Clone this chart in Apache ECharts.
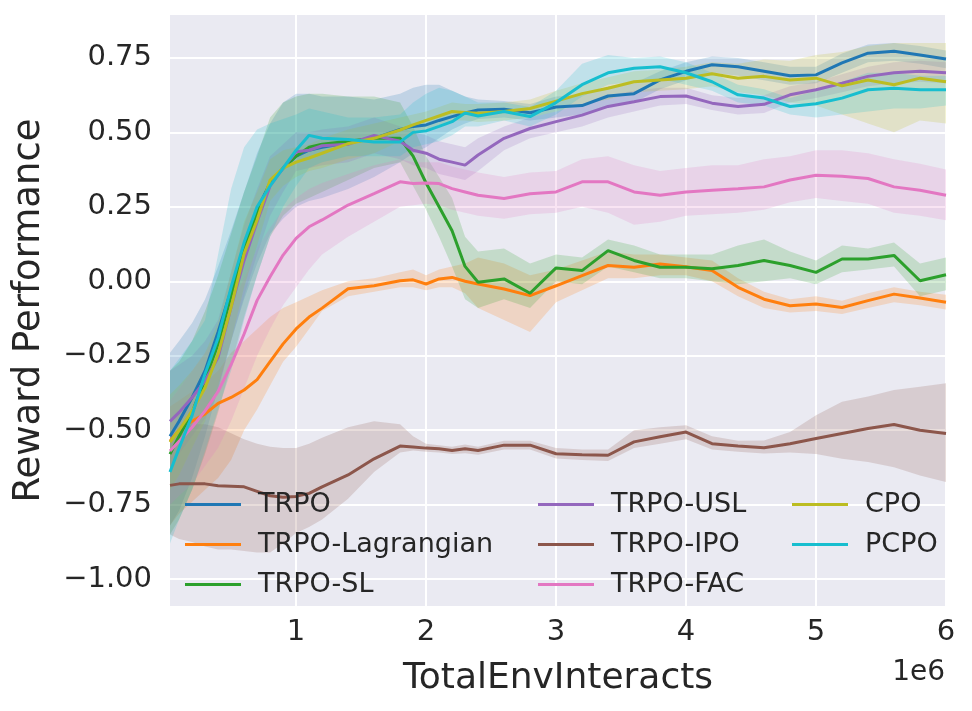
<!DOCTYPE html>
<html>
<head>
    <meta charset="utf-8">
    <title>Reward Performance</title>
    <script src="https://cdn.jsdelivr.net/npm/echarts@6/dist/echarts.min.js"></script>
    <style>
        html, body { margin: 0; padding: 0; background: #ffffff; }
        #chart1 { width: 972px; height: 711px; }
    </style>
</head>
<body>
<div id="chart1"></div>
<script type="text/javascript">
    // x positions, in units of 1e6 env interacts
    var xs = [0.03, 0.1, 0.2, 0.3, 0.4, 0.5, 0.6, 0.7, 0.8, 0.9,
        1.0, 1.1, 1.2, 1.4, 1.6, 1.8, 1.9, 2.0, 2.1, 2.2,
        2.3, 2.4, 2.6, 2.8, 3.0, 3.2, 3.4, 3.6, 3.8, 4.0,
        4.2, 4.4, 4.6, 4.8, 5.0, 5.2, 5.4, 5.6, 5.8, 6.0];
    var xTicks = [1, 2, 3, 4, 5, 6];
    var yTicks = [-1, -0.75, -0.5, -0.25, 0, 0.25, 0.5, 0.75];

    // TRPO
    var trpo = [-0.52, -0.47, -0.39, -0.30, -0.17, -0.03, 0.12, 0.24, 0.33, 0.38,
        0.42, 0.44, 0.45, 0.465, 0.48, 0.51, 0.52, 0.525, 0.54, 0.553,
        0.565, 0.575, 0.578, 0.566, 0.585, 0.59, 0.622, 0.63, 0.676, 0.705,
        0.727, 0.72, 0.705, 0.69, 0.693, 0.733, 0.766, 0.772, 0.76, 0.746];
    var trpoLo = [-0.82, -0.77, -0.66, -0.52, -0.36, -0.2, -0.06, 0.06, 0.16, 0.21,
        0.25, 0.27, 0.28, 0.31, 0.35, 0.40, 0.43, 0.45, 0.48, 0.51,
        0.53, 0.545, 0.55, 0.54, 0.55, 0.56, 0.59, 0.60, 0.645, 0.675,
        0.70, 0.69, 0.675, 0.66, 0.665, 0.70, 0.735, 0.74, 0.73, 0.715];
    var trpoHi = [-0.24, -0.2, -0.14, -0.06, 0.05, 0.17, 0.3, 0.43, 0.53, 0.6,
        0.63, 0.63, 0.62, 0.62, 0.61, 0.63, 0.65, 0.66, 0.66, 0.64,
        0.62, 0.61, 0.605, 0.595, 0.62, 0.625, 0.655, 0.665, 0.705, 0.735,
        0.755, 0.75, 0.735, 0.72, 0.72, 0.765, 0.795, 0.8, 0.79, 0.775];

    // TRPO-Lagrangian
    var lag = [-0.537, -0.5, -0.47, -0.445, -0.41, -0.39, -0.365, -0.33, -0.27, -0.21,
        -0.16, -0.12, -0.09, -0.025, -0.015, 0.002, 0.005, -0.009, 0.008, 0.013,
        0.0, -0.009, -0.026, -0.048, -0.015, 0.019, 0.053, 0.047, 0.058, 0.049,
        0.036, -0.02, -0.06, -0.082, -0.076, -0.088, -0.065, -0.043, -0.056, -0.07];
    var lagLo = [-0.82, -0.78, -0.74, -0.7, -0.66, -0.6, -0.5, -0.43, -0.35, -0.27,
        -0.22, -0.16, -0.1, -0.05, -0.035, -0.02, -0.02, -0.03, -0.02, -0.02,
        -0.04, -0.09, -0.13, -0.17, -0.07, -0.03, 0.01, 0.01, 0.02, 0.02,
        0.0, -0.05, -0.09, -0.105, -0.1, -0.11, -0.09, -0.07, -0.08, -0.095];
    var lagHi = [-0.42, -0.40, -0.37, -0.34, -0.30, -0.24, -0.2, -0.16, -0.12, -0.09,
        -0.07, -0.05, -0.03, 0.0, 0.01, 0.03, 0.04, 0.02, 0.04, 0.05,
        0.06, 0.08, 0.06, 0.02, 0.04, 0.07, 0.1, 0.09, 0.09, 0.08,
        0.07, 0.01, -0.035, -0.06, -0.05, -0.065, -0.04, -0.02, -0.035, -0.045];

    // TRPO-SL
    var sl = [-0.58, -0.52, -0.44, -0.33, -0.21, -0.05, 0.11, 0.23, 0.33, 0.38,
        0.42, 0.45, 0.46, 0.47, 0.48, 0.48, 0.42, 0.33, 0.25, 0.17,
        0.05, -0.003, 0.008, -0.04, 0.045, 0.036, 0.103, 0.07, 0.047, 0.047,
        0.042, 0.053, 0.07, 0.053, 0.03, 0.075, 0.075, 0.087, 0.002, 0.022];
    var slLo = [-0.85, -0.8, -0.7, -0.58, -0.44, -0.28, -0.12, 0.02, 0.15, 0.22,
        0.26, 0.28, 0.3, 0.34, 0.38, 0.4, 0.32, 0.24, 0.15, 0.05,
        -0.06, -0.09, -0.06, -0.09, 0.0, -0.01, 0.05, 0.03, 0.01, 0.01,
        0.0, -0.01, 0.0, 0.01, -0.01, 0.03, 0.04, 0.05, -0.05, -0.03];
    var slHi = [-0.3, -0.27, -0.2, -0.1, 0.02, 0.16, 0.3, 0.42, 0.55, 0.6,
        0.62, 0.63, 0.63, 0.62, 0.62, 0.6, 0.52, 0.42, 0.35, 0.28,
        0.15, 0.1, 0.11, 0.06, 0.09, 0.08, 0.14, 0.12, 0.09, 0.09,
        0.09, 0.12, 0.14, 0.1, 0.07, 0.12, 0.11, 0.13, 0.06, 0.08];

    // TRPO-USL
    var usl = [-0.47, -0.44, -0.39, -0.334, -0.255, -0.087, 0.07, 0.2, 0.32, 0.38,
        0.435, 0.44, 0.455, 0.46, 0.49, 0.47, 0.44, 0.43, 0.41, 0.40,
        0.39, 0.424, 0.48, 0.513, 0.536, 0.558, 0.587, 0.603, 0.62, 0.622,
        0.598, 0.587, 0.594, 0.626, 0.643, 0.665, 0.688, 0.70, 0.705, 0.70];
    var uslLo = [-0.62, -0.58, -0.52, -0.46, -0.37, -0.2, -0.05, 0.09, 0.22, 0.3,
        0.37, 0.38, 0.39, 0.4, 0.43, 0.41, 0.39, 0.38, 0.36, 0.35,
        0.34, 0.37, 0.44, 0.48, 0.5, 0.52, 0.55, 0.57, 0.59, 0.595,
        0.575, 0.56, 0.565, 0.6, 0.615, 0.635, 0.655, 0.665, 0.67, 0.665];
    var uslHi = [-0.3, -0.28, -0.25, -0.2, -0.13, 0.03, 0.19, 0.31, 0.42, 0.46,
        0.5, 0.5, 0.51, 0.52, 0.55, 0.52, 0.5, 0.49, 0.47, 0.46,
        0.45, 0.48, 0.52, 0.55, 0.57, 0.595, 0.625, 0.64, 0.65, 0.65,
        0.625, 0.615, 0.625, 0.655, 0.67, 0.695, 0.72, 0.735, 0.74, 0.735];

    // TRPO-IPO
    var ipo = [-0.685, -0.68, -0.68, -0.68, -0.686, -0.688, -0.69, -0.705, -0.72, -0.725,
        -0.722, -0.712, -0.69, -0.65, -0.596, -0.553, -0.556, -0.56, -0.562, -0.568,
        -0.562, -0.568, -0.55, -0.55, -0.579, -0.582, -0.584, -0.539, -0.522, -0.506,
        -0.545, -0.553, -0.559, -0.545, -0.528, -0.511, -0.494, -0.481, -0.5, -0.511];
    var ipoLo = [-0.85, -0.865, -0.875, -0.89, -0.9, -0.9, -0.905, -0.91, -0.91, -0.88,
        -0.845, -0.825, -0.8, -0.73, -0.64, -0.575, -0.568, -0.572, -0.575, -0.58,
        -0.577, -0.582, -0.565, -0.565, -0.595, -0.6, -0.603, -0.56, -0.545, -0.53,
        -0.565, -0.572, -0.578, -0.575, -0.58, -0.596, -0.607, -0.624, -0.652, -0.674];
    var ipoHi = [-0.52, -0.5, -0.48, -0.48, -0.49, -0.51, -0.53, -0.545, -0.555, -0.56,
        -0.56, -0.545, -0.525, -0.49, -0.47, -0.48, -0.52, -0.545, -0.55, -0.555,
        -0.548, -0.555, -0.535, -0.535, -0.56, -0.565, -0.565, -0.5, -0.49, -0.483,
        -0.52, -0.535, -0.534, -0.506, -0.45, -0.404, -0.387, -0.365, -0.354, -0.342];

    // TRPO-FAC
    var fac = [-0.57, -0.537, -0.49, -0.435, -0.37, -0.28, -0.177, -0.064, 0.015, 0.088,
        0.144, 0.183, 0.206, 0.256, 0.294, 0.334, 0.328, 0.33, 0.328, 0.311,
        0.30, 0.289, 0.278, 0.294, 0.30, 0.334, 0.334, 0.30, 0.289, 0.30,
        0.306, 0.311, 0.317, 0.34, 0.356, 0.353, 0.345, 0.317, 0.306, 0.289];
    var facLo = [-0.75, -0.72, -0.68, -0.62, -0.56, -0.47, -0.36, -0.25, -0.16, -0.08,
        -0.02, 0.04, 0.09, 0.15, 0.2, 0.25, 0.255, 0.26, 0.255, 0.24,
        0.23, 0.22, 0.21, 0.225, 0.23, 0.25, 0.23, 0.19, 0.2, 0.22,
        0.225, 0.23, 0.24, 0.265, 0.28, 0.27, 0.26, 0.23, 0.22, 0.205];
    var facHi = [-0.4, -0.36, -0.3, -0.24, -0.17, -0.08, 0.01, 0.11, 0.18, 0.24,
        0.28, 0.31, 0.33, 0.36, 0.39, 0.41, 0.4, 0.4, 0.4, 0.385,
        0.375, 0.365, 0.35, 0.365, 0.37, 0.41, 0.42, 0.39, 0.37, 0.38,
        0.39, 0.39, 0.41, 0.42, 0.44, 0.44, 0.43, 0.41, 0.395, 0.375];

    // CPO
    var cpo = [-0.54, -0.5, -0.435, -0.357, -0.244, -0.087, 0.093, 0.206, 0.34, 0.38,
        0.40, 0.414, 0.43, 0.462, 0.48, 0.508, 0.525, 0.54, 0.555, 0.57,
        0.567, 0.564, 0.57, 0.58, 0.605, 0.63, 0.648, 0.67, 0.676, 0.682,
        0.697, 0.682, 0.688, 0.676, 0.682, 0.656, 0.676, 0.66, 0.682, 0.67];
    var cpoLo = [-0.7, -0.65, -0.56, -0.47, -0.35, -0.2, -0.02, 0.12, 0.27, 0.32,
        0.35, 0.37, 0.38, 0.41, 0.43, 0.47, 0.49, 0.51, 0.525, 0.54,
        0.54, 0.535, 0.54, 0.55, 0.57, 0.595, 0.61, 0.635, 0.64, 0.645,
        0.655, 0.635, 0.625, 0.6, 0.59, 0.56, 0.53, 0.5, 0.54, 0.53];
    var cpoHi = [-0.38, -0.35, -0.3, -0.24, -0.14, 0.03, 0.2, 0.3, 0.41, 0.44,
        0.45, 0.46, 0.48, 0.51, 0.53, 0.55, 0.56, 0.57, 0.585, 0.6,
        0.595, 0.595, 0.6, 0.61, 0.64, 0.665, 0.685, 0.705, 0.71, 0.72,
        0.735, 0.73, 0.745, 0.74, 0.76, 0.77, 0.79, 0.8, 0.8, 0.8];

    // PCPO
    var pcpo = [-0.64, -0.56, -0.45, -0.31, -0.19, -0.02, 0.13, 0.25, 0.32, 0.38,
        0.44, 0.49, 0.48, 0.476, 0.468, 0.468, 0.50, 0.505, 0.52, 0.536,
        0.565, 0.555, 0.57, 0.553, 0.60, 0.66, 0.70, 0.715, 0.72, 0.70,
        0.67, 0.626, 0.615, 0.587, 0.596, 0.615, 0.643, 0.648, 0.643, 0.643];
    var pcpoLo = [-0.88, -0.8, -0.7, -0.57, -0.43, -0.3, -0.13, 0.02, 0.15, 0.25,
        0.32, 0.38, 0.40, 0.42, 0.42, 0.42, 0.45, 0.46, 0.47, 0.49,
        0.52, 0.52, 0.54, 0.52, 0.56, 0.62, 0.66, 0.67, 0.68, 0.66,
        0.64, 0.6, 0.59, 0.56, 0.55, 0.56, 0.57, 0.58, 0.58, 0.59];
    var pcpoHi = [-0.3, -0.26, -0.2, -0.13, 0.09, 0.31, 0.45, 0.51, 0.53, 0.545,
        0.56, 0.58, 0.57, 0.55, 0.55, 0.56, 0.6, 0.63, 0.65, 0.64,
        0.62, 0.6, 0.6, 0.585, 0.64, 0.73, 0.76, 0.75, 0.755, 0.735,
        0.70, 0.66, 0.645, 0.615, 0.64, 0.67, 0.7, 0.7, 0.69, 0.69];

    var algos = [
        {name: 'TRPO', mean: trpo, lo: trpoLo, hi: trpoHi, color: '#1f77b4'},
        {name: 'TRPO-Lagrangian', mean: lag, lo: lagLo, hi: lagHi, color: '#ff7f0e'},
        {name: 'TRPO-SL', mean: sl, lo: slLo, hi: slHi, color: '#2ca02c'},
        {name: 'TRPO-USL', mean: usl, lo: uslLo, hi: uslHi, color: '#9467bd'},
        {name: 'TRPO-IPO', mean: ipo, lo: ipoLo, hi: ipoHi, color: '#8c564b'},
        {name: 'TRPO-FAC', mean: fac, lo: facLo, hi: facHi, color: '#e377c2'},
        {name: 'CPO', mean: cpo, lo: cpoLo, hi: cpoHi, color: '#bcbd22'},
        {name: 'PCPO', mean: pcpo, lo: pcpoLo, hi: pcpoHi, color: '#17becf'}
    ];

    var textColor = '#262626';
    var font = 'DejaVu Sans';

    function pts(ys) {
        return xs.map(function (x, i) { return [x, ys[i]]; });
    }

    // one polygon per band, upper edge left->right then lower edge back
    function bandItem(a) {
        return function (params, api) {
            if (params.dataIndex !== 0) return null;
            var upper = [], lower = [];
            for (var i = 0; i < xs.length; i++) {
                upper.push(api.coord([xs[i], a.hi[i]]));
                lower.unshift(api.coord([xs[i], a.lo[i]]));
            }
            return {
                type: 'polygon',
                shape: {points: upper.concat(lower)},
                style: {fill: a.color, opacity: 0.2}
            };
        };
    }

    var series = [];
    algos.forEach(function (a) {
        series.push({
            type: 'custom', name: a.name + ' band', silent: true, z: 1,
            data: xs.map(function (x, i) { return [x, a.lo[i], a.hi[i]]; }),
            encode: {x: 0, y: [1, 2]},
            renderItem: bandItem(a)
        });
    });
    algos.forEach(function (a) {
        series.push({
            type: 'line', name: a.name, data: pts(a.mean),
            symbol: 'none', showSymbol: false, z: 3,
            lineStyle: {width: 3, color: a.color},
            itemStyle: {color: a.color}
        });
    });

    function legendCol(names, left) {
        return {
            data: names, orient: 'vertical', left: left, top: 486,
            icon: 'rect', itemWidth: 56, itemHeight: 3, itemGap: 13,
            selectedMode: false,
            textStyle: {fontSize: 27, fontFamily: font, color: textColor, lineHeight: 27, padding: [0, 0, 0, 12]}
        };
    }

    var myChart1 = echarts.init(document.getElementById('chart1'));
    myChart1.setOption({
        animation: false,
        backgroundColor: '#ffffff',
        grid: {left: 170, right: 26, top: 15, bottom: 105, show: true, backgroundColor: '#EAEAF2', borderWidth: 0},
        legend: [
            legendCol(['TRPO', 'TRPO-Lagrangian', 'TRPO-SL'], 180),
            legendCol(['TRPO-USL', 'TRPO-IPO', 'TRPO-FAC'], 533),
            legendCol(['CPO', 'PCPO'], 787)
        ],
        xAxis: {
            type: 'value', min: 0.03, max: 6,
            name: 'TotalEnvInteracts', nameLocation: 'middle', nameGap: 55,
            nameTextStyle: {fontSize: 36, fontFamily: font, color: textColor},
            axisLine: {show: false},
            axisTick: {show: false, customValues: xTicks},
            axisLabel: {customValues: xTicks, fontSize: 29, fontFamily: font, color: textColor, margin: 12},
            splitLine: {show: true, lineStyle: {color: '#ffffff', width: 2}}
        },
        yAxis: {
            type: 'value', min: -1.09, max: 0.894,
            name: 'Reward Performance', nameLocation: 'middle', nameGap: 122,
            nameTextStyle: {fontSize: 37, fontFamily: font, color: textColor},
            axisLine: {show: false},
            axisTick: {show: false, customValues: yTicks},
            axisLabel: {
                customValues: yTicks, fontSize: 29, fontFamily: font, color: textColor, margin: 18,
                formatter: function (v) { return (v < 0 ? '\u2212' : '') + Math.abs(v).toFixed(2); }
            },
            splitLine: {show: true, lineStyle: {color: '#ffffff', width: 2}}
        },
        graphic: [{
            type: 'text', right: 27, top: 659,
            style: {text: '1e6', font: '28px "DejaVu Sans"', fill: textColor}
        }],
        series: series
    });
</script>
</body>
</html>
